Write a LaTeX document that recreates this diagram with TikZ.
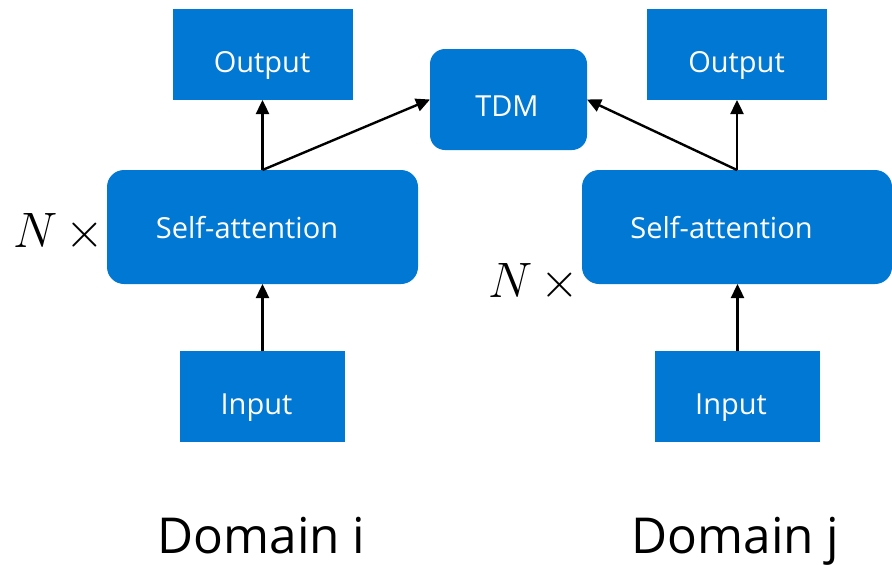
\documentclass[tikz,border=0pt]{standalone}
\usepackage{graphicx}
\usepackage{fontspec}
\setmainfont{Open Sans}
\usetikzlibrary{arrows.meta}
\definecolor{msblue}{RGB}{0,120,212}
\newcommand{\reps}{\scalebox{2}{$N\mkern3mu\times$}}
\tikzset{
  box/.style={fill=msblue, draw=none, inner sep=0pt, outer sep=0pt},
  rbox/.style={box, rounded corners=17pt},
  boxtext/.style={text=white, font=\fontsize{29}{34}\selectfont, anchor=base, inner sep=0pt},
  domtext/.style={text=black, font=\fontsize{49.5}{58}\selectfont, anchor=base, inner sep=0pt},
  reptext/.style={text=black, font=\fontsize{24.88}{30}\selectfont, anchor=base west, inner sep=0pt},
  flow/.style={draw=black, line width=2.4pt, -{Triangle[length=14pt,width=13pt]}}
}
\begin{document}
\begin{tikzpicture}[x=1pt, y=-1pt]
  \useasboundingbox (0,0) rectangle (892,565);

  % domain i
  \node[box, minimum width=180pt, minimum height=91pt] (outL) at (263,54.5) {};
  \node[rbox, minimum width=311pt, minimum height=114pt] (saL) at (262.5,227) {};
  \node[box, minimum width=165pt, minimum height=91pt] (inL) at (262.5,396.5) {};
  \node[boxtext] (outLt) at (262,72) {Output};
  \node[boxtext] (saLt) at (247,238) {Self-attention};
  \node[boxtext] (inLt) at (256.5,414) {Input};
  \node[reptext] (repL) at (13,247) {\reps};
  \node[domtext] (domL) at (261.5,553) {Domain i};

  % shared TDM block
  \node[box, rounded corners=15pt, minimum width=157pt, minimum height=101pt] (tdm) at (508.5,99.5) {};
  \node[boxtext] (tdmt) at (507,116) {TDM};

  % domain j
  \node[box, minimum width=180pt, minimum height=91pt] (outR) at (737,54.5) {};
  \node[rbox, minimum width=310pt, minimum height=114pt] (saR) at (737,227) {};
  \node[box, minimum width=165pt, minimum height=91pt] (inR) at (737.5,396.5) {};
  \node[boxtext] (outRt) at (736.5,72) {Output};
  \node[boxtext] (saRt) at (721.5,238) {Self-attention};
  \node[boxtext] (inRt) at (731,414) {Input};
  \node[reptext] (repR) at (488,297) {\reps};
  \node[domtext] (domR) at (735.5,553) {Domain j};

  % connectors
  \draw[flow] (inL.north) -- (saL.south);
  \draw[flow] (saL.north) -- (outL.south -| saL.north);
  \draw[flow] (saL.north) -- (tdm.west);
  \draw[flow] (inR.north) -- (saR.south -| inR.north);
  \draw[flow] (saR.north) -- (outR.south -| saR.north);
  \draw[flow] (saR.north) -- (tdm.east);
\end{tikzpicture}
\end{document}
